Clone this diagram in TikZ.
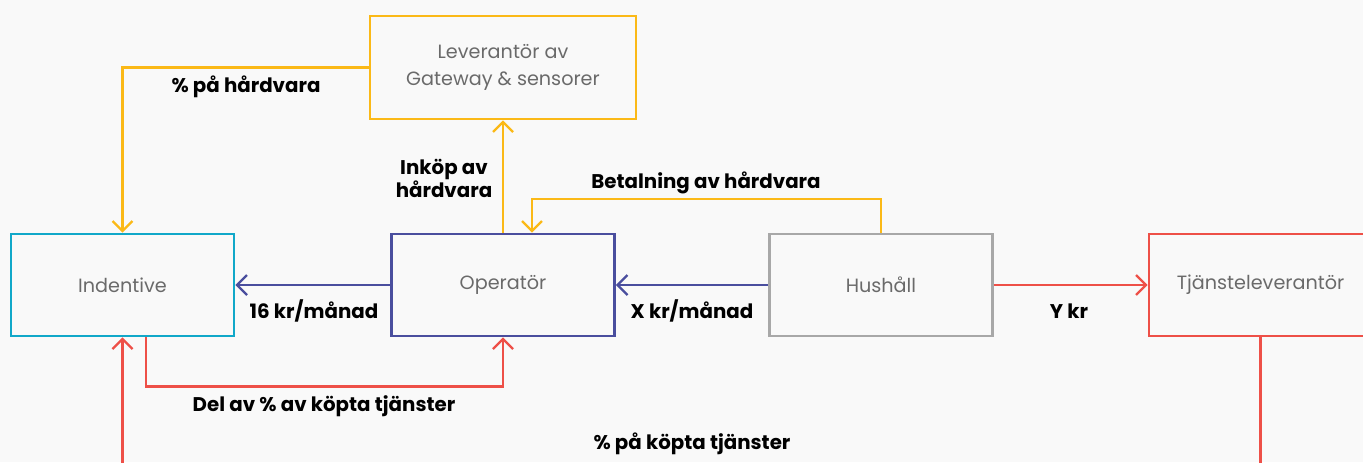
\documentclass[tikz,border=0pt]{standalone}
\usepackage{fontspec}
\setmainfont{Poppins}
\usetikzlibrary{arrows.meta}
\definecolor{gul}{HTML}{FBB917}
\definecolor{bla}{HTML}{4A4E9E}
\definecolor{turkos}{HTML}{11A8C9}
\definecolor{rod}{HTML}{EE5048}
\definecolor{gra}{HTML}{A8A8A8}
\definecolor{boxtext}{HTML}{6A6A6A}
\definecolor{bakgrund}{HTML}{F9F9F9}
\begin{document}
\begin{tikzpicture}[x=0.5pt,y=-0.5pt,
    box/.style={draw,line width=1.3pt,minimum width=111.5pt,minimum height=51pt,
        text=boxtext,font=\fontsize{9.6}{13.5}\selectfont,align=center,inner sep=0pt},
    lbl/.style={font=\fontsize{9.9}{11.5}\selectfont\bfseries,align=center,inner sep=0pt},
    flow/.style={line width=1.2pt,-{Straight Barb[length=5pt,width=10pt,line width=1.2pt]}}]
        \clip (0,0) rectangle (1363,462);
        \fill[bakgrund] (0,0) rectangle (1363,462);
        \node[box,draw=gul,minimum width=133pt,minimum height=51.5pt] (lev) at (503,67.5) {Leverantör av\\Gateway \& sensorer};
        \node[box,draw=turkos] (ind) at (122.5,285) {Indentive};
        \node[box,draw=bla] (op) at (503,285) {Operatör};
        \node[box,draw=gra] (hus) at (881,285) {Hushåll};
        \node[box,draw=rod] (tj) at (1260.5,285) {Tjänsteleverantör};
        \draw[flow,gul] (lev.west) -| (ind.north);
        \draw[flow,gul] (op.north) -- (lev.south);
        \draw[flow,gul] (hus.north) -- ++(0,-34) -| ([xshift=14.5pt]op.north);
        \draw[flow,bla] (op.west) -- (ind.east);
        \draw[flow,bla] (hus.west) -- (op.east);
        \draw[flow,rod] (hus.east) -- (tj.west);
        \draw[flow,rod] ([xshift=11.75pt]ind.south) -- ++(0,49) -| (op.south);
        \draw[flow,rod] (tj.south) -- ++(0,160) -| (ind.south);
        \node[lbl] (l1) at (246,87) {\% på hårdvara};
        \node[lbl] (l2) at (444,178) {Inköp av\\hårdvara};
        \node[lbl] (l3) at (706,183) {Betalning av hårdvara};
        \node[lbl] (l4) at (314,311) {16 kr/månad};
        \node[lbl] (l5) at (692,311) {X kr/månad};
        \node[lbl] (l6) at (1069,311) {Y kr};
        \node[lbl] (l7) at (324,406) {Del av \% av köpta tjänster};
        \node[lbl] (l8) at (692,444) {\% på köpta tjänster};
    \end{tikzpicture}
\end{document}
